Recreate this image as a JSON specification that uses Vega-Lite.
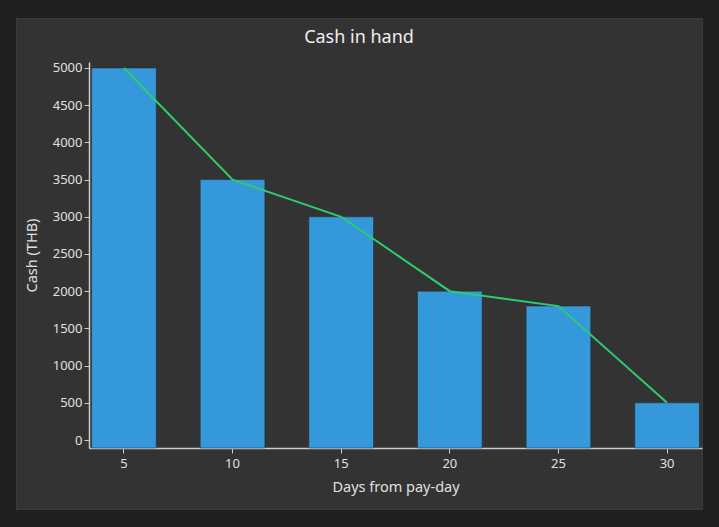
{
  "$schema": "https://vega.github.io/schema/vega-lite/v6.json",
  "width": 686,
  "height": 491,
  "autosize": {"type": "none"},
  "padding": {"left": 16, "top": 18, "right": 17, "bottom": 18},
  "background": "#1f1f1f",
  "config": {
    "view": {"fill": "#333333", "stroke": "#3a3a3a"},
    "font": "Noto Sans"
  },
  "title": {
    "text": "Cash in hand",
    "offset": -29,
    "baseline": "top",
    "fontSize": 18,
    "fontWeight": "normal",
    "color": "#eeeeee",
    "anchor": "middle"
  },
  "data": {
    "values": [
      {"day": 5, "cash": 5000},
      {"day": 10, "cash": 3500},
      {"day": 15, "cash": 3000},
      {"day": 20, "cash": 2000},
      {"day": 25, "cash": 1800},
      {"day": 30, "cash": 500}
    ]
  },
  "encoding": {
    "x": {
      "field": "day",
      "type": "ordinal",
      "sort": "ascending",
      "scale": {"range": [73, 686], "paddingInner": 0.405, "paddingOuter": 0.024},
      "axis": {
        "title": "Days from pay-day",
        "offset": -61,
        "labelAngle": 0,
        "labelColor": "#e0e0e0",
        "labelFontSize": 13,
        "labelPadding": 4,
        "tickColor": "#cccccc",
        "tickSize": 5,
        "domainColor": "#cccccc",
        "domainWidth": 1.5,
        "titleColor": "#e0e0e0",
        "titleFontSize": 14.5,
        "titleFontWeight": "normal",
        "titlePadding": 10,
        "grid": false
      }
    }
  },
  "layer": [
    {
      "mark": {"type": "bar", "color": "#3498db", "stroke": "#2a2a2a", "strokeOpacity": 0.5, "strokeWidth": 1},
      "encoding": {
        "y": {
          "field": "cash",
          "type": "quantitative",
          "scale": {"domain": [-107.5, 5080.6], "range": [430, 44], "nice": false, "zero": false},
          "axis": {
            "title": "Cash (THB)",
            "offset": -73,
            "values": [0, 500, 1000, 1500, 2000, 2500, 3000, 3500, 4000, 4500, 5000],
            "format": "d",
            "labelColor": "#e0e0e0",
            "labelFontSize": 13,
            "labelPadding": 2,
            "tickColor": "#cccccc",
            "tickSize": 5,
            "domainColor": "#cccccc",
            "domainWidth": 1.5,
            "titleColor": "#e0e0e0",
            "titleFontSize": 14.5,
            "titleFontWeight": "normal",
            "titlePadding": 13,
            "grid": false
          }
        },
        "y2": {"datum": -107.5}
      }
    },
    {
      "mark": {"type": "line", "color": "#2ecc71", "strokeWidth": 2},
      "encoding": {
        "y": {"field": "cash", "type": "quantitative"}
      }
    }
  ]
}
